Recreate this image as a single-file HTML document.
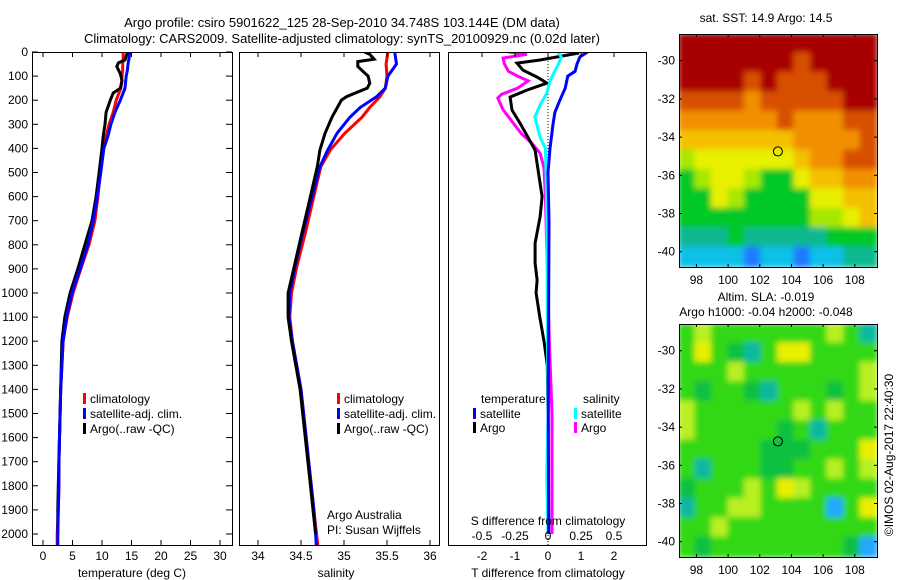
<!DOCTYPE html>
<html><head><meta charset="utf-8">
<style>
html,body{margin:0;padding:0;background:#fff;}
svg{display:block;font-family:"Liberation Sans",sans-serif;font-size:12px;}
</style></head>
<body>
<svg id="chart" width="900" height="580" viewBox="0 0 900 580" xmlns="http://www.w3.org/2000/svg">
<defs><filter id="blur" filterUnits="userSpaceOnUse" x="600" y="0" width="300" height="580"><feGaussianBlur stdDeviation="3"/></filter></defs>
<text x="342" y="27" text-anchor="middle" font-size="13">Argo profile: csiro 5901622_125 28-Sep-2010 34.748S 103.144E (DM data)</text>
<text x="342" y="43" text-anchor="middle" font-size="13">Climatology: CARS2009. Satellite-adjusted climatology: synTS_20100929.nc (0.02d later)</text>
<text x="766" y="22" text-anchor="middle">sat. SST: 14.9 Argo: 14.5</text>
<text x="766" y="301" text-anchor="middle">Altim. SLA: -0.019</text>
<text x="766" y="316" text-anchor="middle">Argo h1000: -0.04 h2000: -0.048</text>
<text transform="translate(893,455) rotate(-90)" text-anchor="middle">©IMOS 02-Aug-2017 22:40:30</text>
<g id="g"></g>
</svg>
<script>
// ---------- data ----------
const tDepth = [0,25,50,75,100,125,150,175,200,250,300,350,400,500,600,700,800,900,1000,1100,1200,1300,1400,1500,1600,1700,1800,1900,2000,2060];
const tClim  = [13.6,13.6,13.5,13.5,13.4,13.3,13.2,12.8,12.4,11.9,11.2,10.7,10.3,9.7,9.3,8.8,7.8,6.4,5.1,4.1,3.4,3.2,3.0,2.9,2.8,2.7,2.7,2.6,2.4,2.4];
const tSat   = [14.7,14.6,14.4,14.3,14.1,14.0,13.9,13.5,13.1,12.2,11.5,11.0,10.3,9.8,9.2,8.5,7.6,6.3,4.9,4.0,3.4,3.2,3.0,2.9,2.8,2.7,2.7,2.6,2.5,2.5];
const argoTDepth = [0,10,33,45,60,90,120,150,170,200,250,300,350,400,500,600,700,800,900,1000,1100,1200,1300,1400,1500,1600,1700,1800,1900,2000];
const tArgo  = [14.9,14.2,13.9,12.8,12.5,13.1,13.4,13.1,11.9,11.4,10.7,10.5,10.2,10.0,9.5,9.0,8.3,7.1,5.9,4.6,3.7,3.2,3.1,3.0,2.9,2.8,2.7,2.6,2.5,2.5];

const sDepth = [0,50,100,150,185,230,270,337,407,476,614,751,892,1000,1100,1200,1300,1400,1500,1600,1700,1800,1900,2000,2060];
const sClim  = [35.51,35.49,35.50,35.48,35.42,35.30,35.21,35.01,34.84,34.73,34.64,34.55,34.45,34.39,34.37,34.40,34.45,34.50,34.53,34.56,34.59,34.62,34.65,34.68,34.70];
const sSat   = [35.59,35.61,35.51,35.48,35.38,35.19,35.07,34.92,34.81,34.72,34.62,34.52,34.43,34.37,34.36,34.40,34.45,34.50,34.53,34.56,34.59,34.62,34.65,34.67,34.68];
const argoSDepth = [0,10,30,40,60,80,100,130,150,185,200,270,337,407,476,614,751,892,1000,1100,1200,1300,1400,1500,1600,1700,1800,1900,2000];
const sArgo  = [35.24,35.30,35.35,35.16,35.16,35.22,35.28,35.30,35.27,35.03,34.97,34.86,34.78,34.72,34.69,34.60,34.51,34.42,34.35,34.35,34.39,34.44,34.49,34.52,34.55,34.58,34.61,34.64,34.67];

const dTDepth = [0,5,33,46,75,104,129,158,187,241,295,353,407,490,600,684,793,876,946,1000,1100,1200,1300,1500,2000];
const dTArgo  = [0.9,0.9,-0.24,-0.94,-0.76,-0.33,-0.03,-0.64,-1.15,-1.09,-0.85,-0.61,-0.39,-0.30,-0.18,-0.24,-0.39,-0.39,-0.33,-0.36,-0.25,-0.12,-0.02,0,0];
const dTSatDepth = [0,20,50,80,100,150,200,250,300,400,500,700,1000,1500,2000];
const dTSat   = [1.2,0.97,0.88,0.82,0.6,0.52,0.36,0.21,0.15,0.06,0.0,0.03,0.02,0.01,0.02];
const dSSatDepth = [0,20,50,80,120,170,220,270,353,400,500,700,1000,1500,1760,2000];
const dSSat   = [0.076,0.10,0.08,0.05,0.015,-0.008,-0.06,-0.10,-0.06,-0.02,-0.015,-0.008,-0.005,0.0,-0.01,0.0];
const dSArgoDepth = [0,10,25,50,80,100,120,150,175,191,240,290,340,380,420,480,600,800,1200,1500,2000];
const dSArgo  = [-0.30,-0.16,-0.34,-0.33,-0.30,-0.23,-0.15,-0.23,-0.35,-0.38,-0.34,-0.27,-0.20,-0.12,-0.06,-0.03,-0.02,-0.01,0.01,0.03,0.03];

const depthTicks = [0,100,200,300,400,500,600,700,800,900,1000,1100,1200,1300,1400,1500,1600,1700,1800,1900,2000];
const tempTicks = [0,5,10,15,20,25,30];
const salTicks = ["34","34.5","35","35.5","36"];
const tDiffTicks = [-2,-1,0,1,2];
const sDiffTicks = ["-0.5","-0.25","0","0.25","0.5"];
const lonTicks = [98,100,102,104,106,108];
const latTicks = [-30,-32,-34,-36,-38,-40];
const argoLon = 103.144, argoLat = -34.748;

const sstGrid = [
[9,9,9,9,9,9,9,9,9,9,9,9],
[9,9,9,9,9,9,9,8,9,9,9,9],
[9,9,9,9,8,9,8,8,8,9,9,9],
[8,8,8,8,7,8,8,8,8,8,9,9],
[7,7,7,7,7,7,8,7,7,7,8,8],
[6,6,6,6,6,6,6,7,7,7,7,8],
[4,5,5,5,5,5,5,6,7,7,8,8],
[3,4,5,5,4,3,3,5,6,6,7,7],
[3,3,5,4,3,3,3,3,5,5,6,6],
[3,3,3,3,3,3,3,3,4,4,5,6],
[2,2,2,3,2,2,2,2,2,3,3,3],
[1,1,1,1,0,1,1,0,1,1,2,2]];
const slaGrid = [
[3,4,3,3,3,3,3,3,3,4,3,1],
[3,5,3,2,1,3,5,5,3,3,3,3],
[3,3,3,4,3,3,3,3,3,3,3,4],
[3,2,3,3,2,1,3,3,3,2,3,4],
[4,3,3,3,3,3,3,4,3,4,3,3],
[4,3,3,3,3,3,2,3,1,3,3,3],
[3,3,3,3,3,2,2,2,3,3,3,5],
[3,1,3,3,3,2,2,3,3,4,3,4],
[2,3,3,3,4,3,5,4,3,3,3,3],
[1,3,3,4,4,3,3,3,3,0,3,5],
[3,3,4,3,3,3,3,3,3,3,3,3],
[3,2,3,3,3,3,3,3,3,3,2,0]];
const sstColors = ["#1a7cff","#10c0e8","#10b890","#00c828","#a8e800","#e8f000","#f4c000","#f09000","#d85000","#a80000"];
const slaColors = ["#20a8ff","#10b8a0","#10c040","#30d818","#b8f020","#e8f000"];

// ---------- helpers ----------
const NS="http://www.w3.org/2000/svg";
const G=document.getElementById('g');
function el(tag,attrs,parent){const e=document.createElementNS(NS,tag);for(const k in attrs)e.setAttribute(k,attrs[k]);(parent||G).appendChild(e);return e;}
function txt(x,y,s,anchor,parent){const t=el('text',{x:x,y:y,'text-anchor':anchor||'middle'},parent);t.textContent=s;return t;}

const Y0=52, YS=0.241, PB=545, PT=52;
const yD=d=>Y0+d*YS;
const xT=v=>43+v*5.9;
const xS=v=>258+(v-34)*86;
const xDT=v=>548+v*33;
const xDS=v=>548+v*132;

const panels=[{x:32,w:200,n:'temperature-panel'},{x:239,w:200,n:'salinity-panel'},{x:448,w:198,n:'difference-panel'}];
panels.forEach((p,i)=>{
  const g=el('g',{});
  
  
  const cp=el('clipPath',{id:'cp'+i},g);
  el('rect',{x:p.x,y:PT,width:p.w,height:PB-PT},cp);
  p.g=g;
});

depthTicks.forEach(d=>{
  const t=txt(28,yD(d)+4,String(d),'end');
  
  
  el('line',{x1:32,x2:38,y1:yD(d),y2:yD(d),stroke:'#000'});
  el('line',{x1:226,x2:232,y1:yD(d),y2:yD(d),stroke:'#000'});
});

function line(p,depths,vals,xf,color,name){
  const pts=depths.map((d,i)=>xf(vals[i]).toFixed(1)+','+yD(d).toFixed(1)).join(' ');
  const pl=el('polyline',{points:pts,fill:'none',stroke:color,'stroke-width':3,'stroke-linejoin':'miter','clip-path':'url(#cp'+p+')'},panels[p].g);
  
  
}
el('line',{x1:548,x2:548,y1:PT,y2:PB,stroke:'#000','stroke-dasharray':'1,2'},panels[2].g);

line(0,tDepth,tClim,xT,'#ff0000','temp-climatology-line');
line(0,argoTDepth,tArgo,xT,'#000000','temp-argo-line');
line(0,tDepth,tSat,xT,'#0000ff','temp-satellite-line');
line(1,sDepth,sClim,xS,'#ff0000','sal-climatology-line');
line(1,sDepth,sSat,xS,'#0000ff','sal-satellite-line');
line(1,argoSDepth,sArgo,xS,'#000000','sal-argo-line');
line(2,dSArgoDepth,dSArgo,xDS,'#ff00ff','s-diff-argo-line');
line(2,dTDepth,dTArgo,xDT,'#000000','t-diff-argo-line');
line(2,dSSatDepth,dSSat,xDS,'#00ffff','s-diff-satellite-line');
line(2,dTSatDepth,dTSat,xDT,'#0000ff','t-diff-satellite-line');

panels.forEach(p=>{el('rect',{x:p.x+0.5,y:PT+0.5,width:p.w,height:PB-PT,fill:'none',stroke:'#000'});});

tempTicks.forEach(v=>{const x=xT(v);el('line',{x1:x,x2:x,y1:PB,y2:PB-5,stroke:'#000'});el('line',{x1:x,x2:x,y1:PT,y2:PT+5,stroke:'#000'});
  const t=txt(x,560,String(v));});
salTicks.forEach(s=>{const x=xS(parseFloat(s));el('line',{x1:x,x2:x,y1:PB,y2:PB-5,stroke:'#000'});el('line',{x1:x,x2:x,y1:PT,y2:PT+5,stroke:'#000'});
  const t=txt(x,560,s);});
tDiffTicks.forEach(v=>{const x=xDT(v);el('line',{x1:x,x2:x,y1:PT,y2:PT+5,stroke:'#000'});
  const t=txt(x,560,String(v));});
sDiffTicks.forEach(s=>{const x=xDS(parseFloat(s));
  const t=txt(x,540,s);});

[[132,'temperature (deg C)','temp-axis-title'],[336,'salinity','salinity-axis-title'],[548,'T difference from climatology','t-diff-axis-title']].forEach(a=>{
  const t=txt(a[0],577,a[1]);});
{const t=txt(548,525,'S difference from climatology');}
{const t=txt(327,519,'Argo Australia','start');}
{const t=txt(327,534,'PI: Susan Wijffels','start');}

function leg(x,y,color,label,name){
  const g=el('g',{});
  
  
  el('rect',{x:x,y:y-10,width:3,height:11,fill:color},g);
  txt(x+7,y,label,'start',g);
}
leg(83,403,'#ff0000','climatology','legend-temp-climatology');
leg(83,418,'#0000ff','satellite-adj. clim.','legend-temp-satellite');
leg(83,433,'#000000','Argo(..raw -QC)','legend-temp-argo');
leg(337,403,'#ff0000','climatology','legend-sal-climatology');
leg(337,418,'#0000ff','satellite-adj. clim.','legend-sal-satellite');
leg(337,433,'#000000','Argo(..raw -QC)','legend-sal-argo');
{const t=txt(481,403,'temperature','start');}
{const t=txt(583,403,'salinity','start');}
leg(473,418,'#0000ff','satellite','legend-t-diff-satellite');
leg(473,432,'#000000','Argo','legend-t-diff-argo');
leg(574,418,'#00ffff','satellite','legend-s-diff-satellite');
leg(574,432,'#ff00ff','Argo','legend-s-diff-argo');

const LON0=96.9, LON1=109.4, LAT0=-28.6, LAT1=-40.8;
function drawMap(top,grid,colors,name){
  const L=679,R=877,B=top+233;
  const xL=lon=>L+(lon-LON0)/(LON1-LON0)*(R-L);
  const yL=lat=>top+(lat-LAT0)/(LAT1-LAT0)*(B-top);
  const g=el('g',{});
  
  
  const rows=grid.length, cols=grid[0].length;
  const cw=(LON1-LON0)/cols, ch=(LAT1-LAT0)/rows;
  const cid='clip'+name;
  const cp=el('clipPath',{id:cid},g); el('rect',{x:L,y:top,width:R-L,height:B-top},cp);
  const cg=el('g',{'clip-path':'url(#'+cid+')'},g);
  const ig=el('g',{filter:'url(#blur)'},cg);
  grid.forEach((row,r)=>row.forEach((v,c)=>{
    const x0=xL(LON0+c*cw), y0=yL(LAT0+r*ch);
    const cell=el('rect',{x:x0-1,y:y0-1,width:xL(LON0+(c+1)*cw)-x0+2,height:yL(LAT0+(r+1)*ch)-y0+2,fill:colors[v]},ig);
    
    
  }));
  el('rect',{x:L+0.5,y:top+0.5,width:R-L,height:B-top,fill:'none',stroke:'#000'},g);
  const c=el('circle',{cx:xL(argoLon),cy:yL(argoLat),r:4.5,fill:'none',stroke:'#000','stroke-width':1},g);
  
  
  lonTicks.forEach(v=>{const x=xL(v);el('line',{x1:x,x2:x,y1:top,y2:top+3,stroke:'#000'},g);el('line',{x1:x,x2:x,y1:B,y2:B-3,stroke:'#000'},g);txt(x,B+17,String(v),'middle',g);});
  latTicks.forEach(v=>{const y=yL(v);el('line',{x1:L,x2:L+3,y1:y,y2:y,stroke:'#000'},g);el('line',{x1:R,x2:R-3,y1:y,y2:y,stroke:'#000'},g);txt(L-4,y+4,String(v),'end',g);});
}
drawMap(34,sstGrid,sstColors,'sst-map');
drawMap(324,slaGrid,slaColors,'sla-map');
</script>
</body></html>
